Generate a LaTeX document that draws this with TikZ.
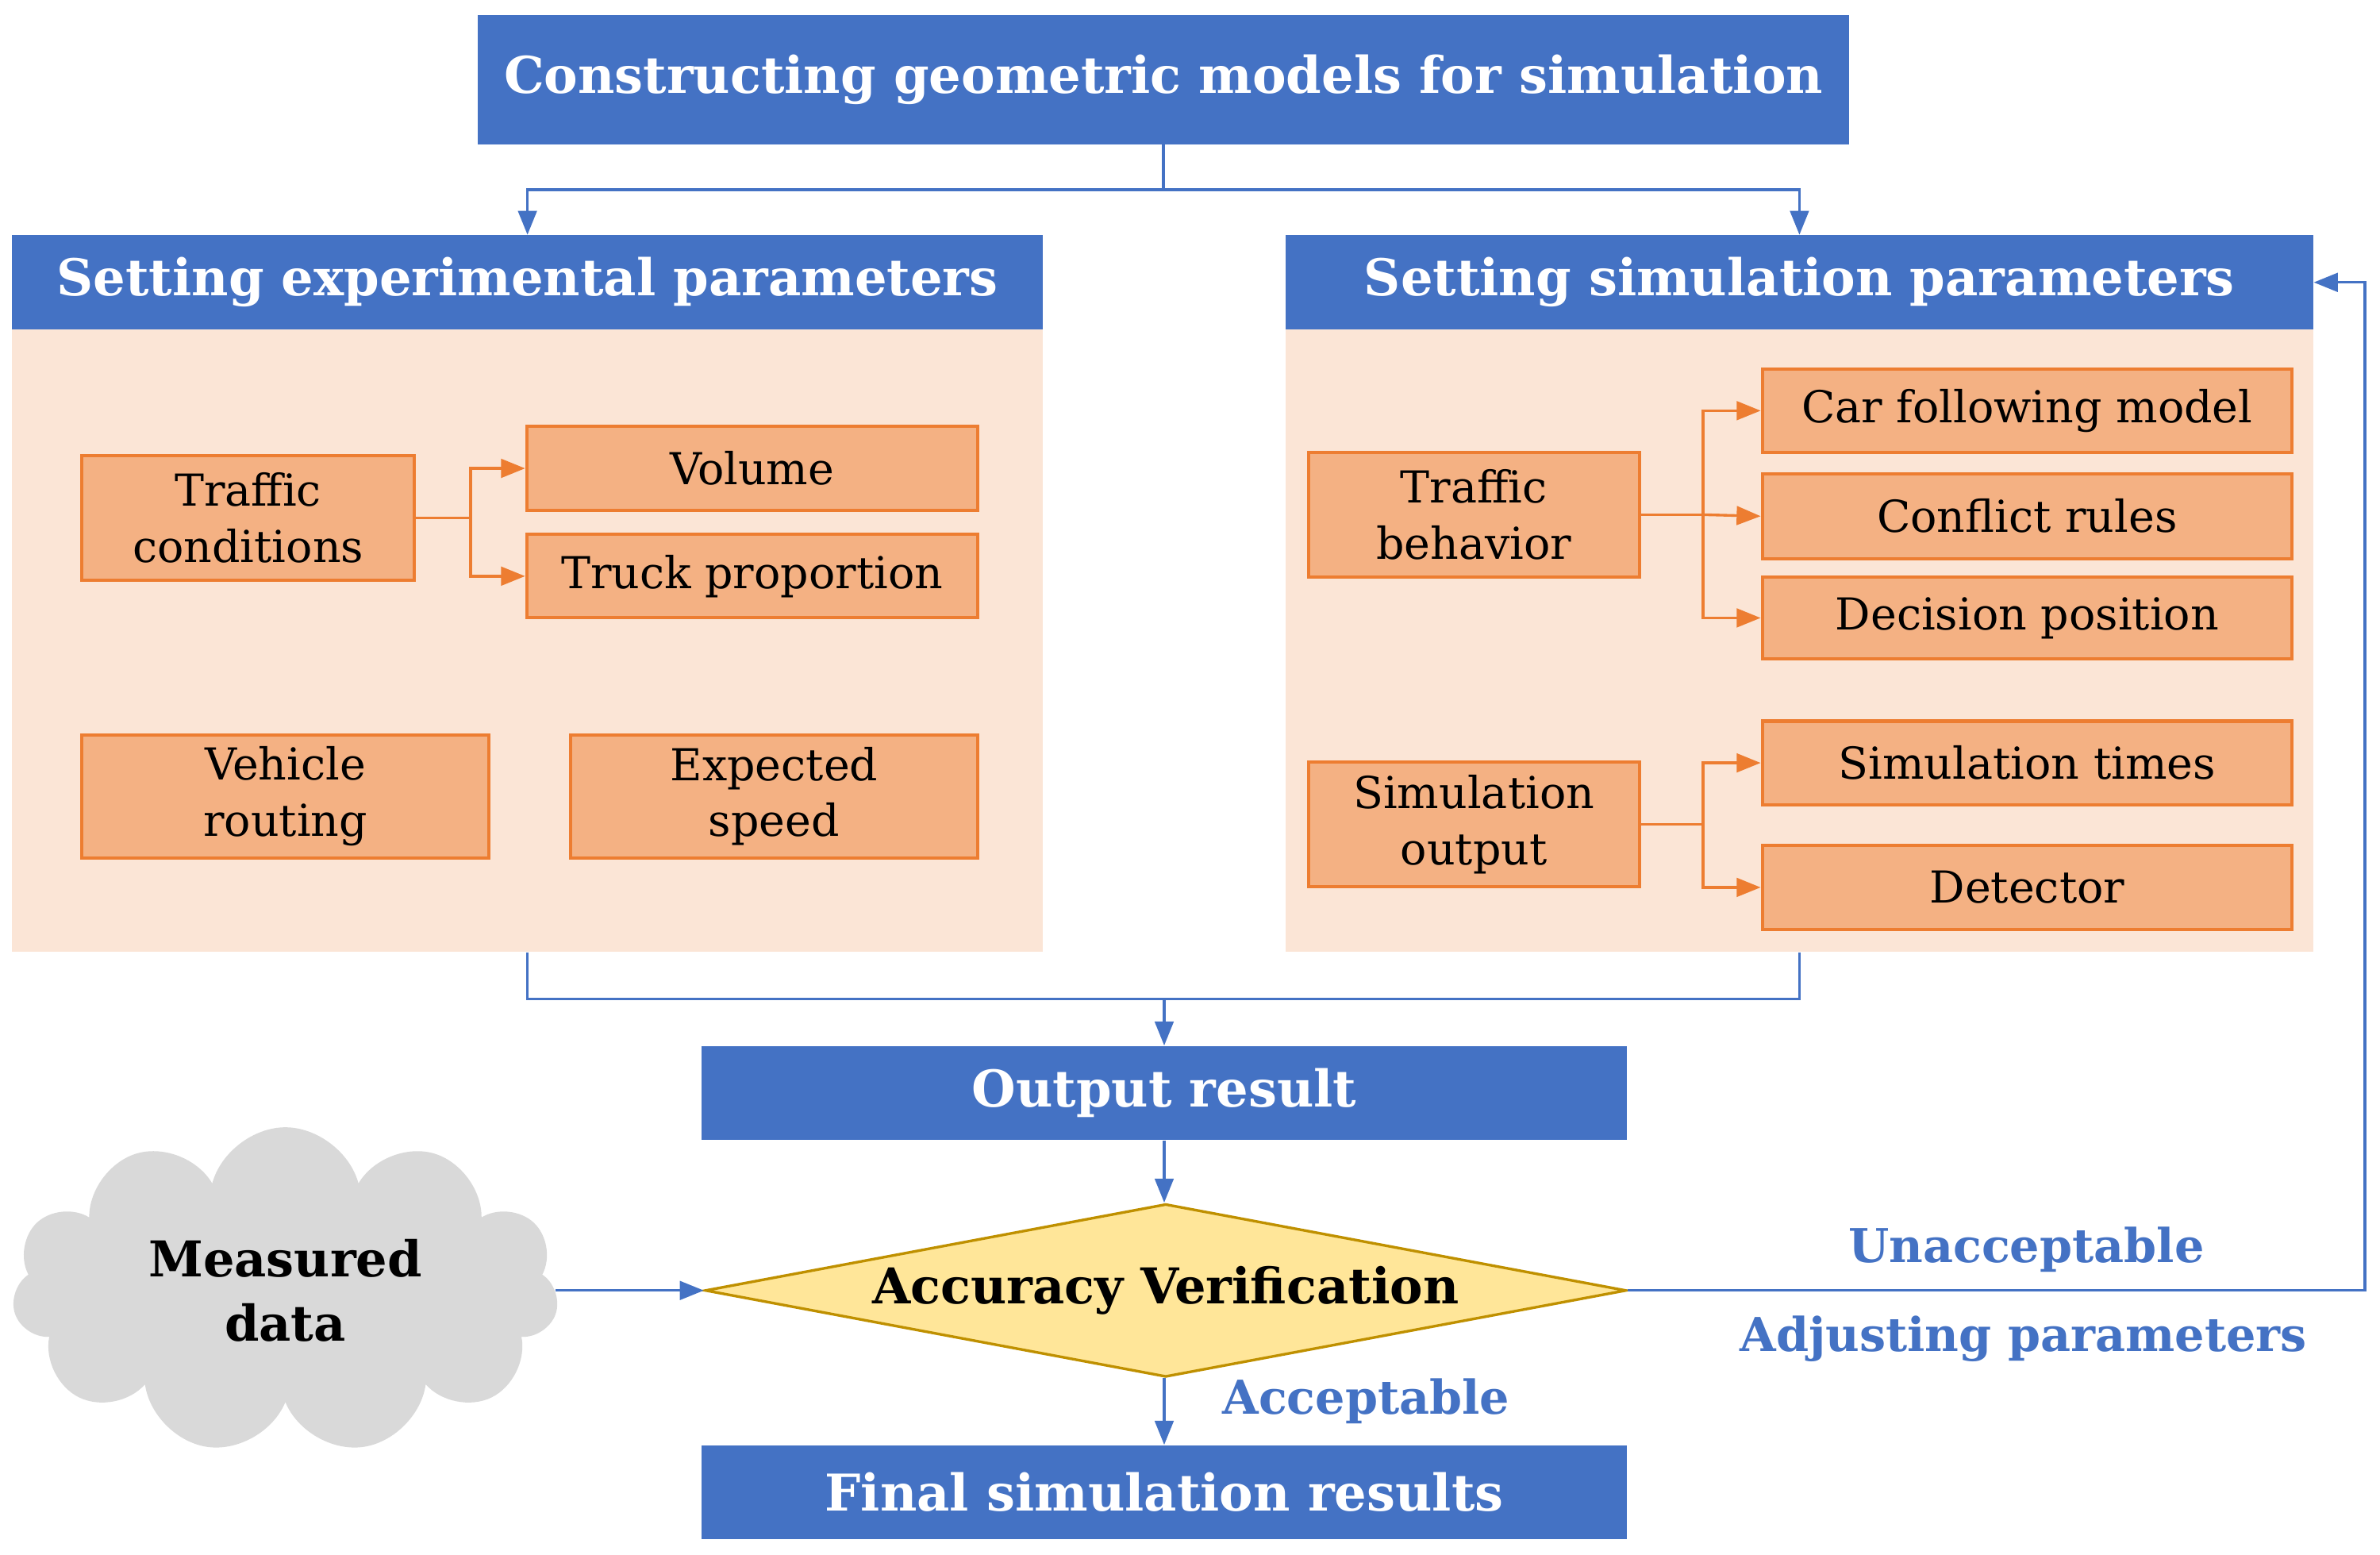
\documentclass[tikz,border=0pt]{standalone}
\usepackage{fontspec}
\setmainfont{DejaVu Serif}
\usetikzlibrary{shapes.geometric,shapes.symbols,arrows.meta,calc}
\definecolor{bl}{HTML}{4472C4}
\definecolor{pan}{HTML}{FBE5D6}
\definecolor{ofill}{HTML}{F4B183}
\definecolor{oline}{HTML}{ED7D31}
\definecolor{dfill}{HTML}{FFE699}
\definecolor{dline}{HTML}{BF9000}
\newcommand\mybox[7]{\node[#2,minimum width={(#5-#3)*0.02cm},minimum height={(#6-#4)*0.02cm}] (#1) at ({(#3+#5)/2},{(#4+#6)/2}) {#7};}
\begin{document}
\begin{tikzpicture}[x=0.02cm,y=-0.02cm,
  hdr/.style={fill=bl,draw=none,inner sep=0,text=white,font=\fontsize{19}{22}\selectfont\bfseries},
  panel/.style={fill=pan,draw=none,inner sep=0},
  ob/.style={fill=ofill,draw=oline,line width=1.2pt,inner sep=0,align=center,font=\fontsize{16.5}{21}\selectfont},
  bar/.style={draw=bl,line width=1pt},
  barr/.style={draw=bl,line width=1pt,-{Triangle[length=9pt,width=7pt]}},
  oar/.style={draw=oline,line width=1pt,-{Triangle[length=9pt,width=7pt]}},
  oln/.style={draw=oline,line width=1pt},
  lbl/.style={text=bl,font=\fontsize{17.5}{20}\selectfont\bfseries}]
\useasboundingbox (0,0) rectangle (1568,1024);
\mybox{title}{hdr,font=\fontsize{19}{22}\selectfont\bfseries}{315}{10}{1218}{95}{Constructing geometric models for simulation}
\mybox{lp}{panel}{8}{217}{687}{627}{}
\mybox{rp}{panel}{847}{217}{1524}{627}{}
\mybox{lh}{hdr}{8}{155}{687}{217}{Setting experimental parameters}
\mybox{rh}{hdr}{847}{155}{1524}{217}{Setting simulation parameters}
\mybox{tc}{ob}{54}{300}{273}{382}{Traffic\\conditions}
\mybox{vol}{ob}{347}{281}{644}{336}{Volume}
\mybox{tp}{ob}{347}{352}{644}{407}{Truck proportion}
\mybox{vr}{ob}{54}{484}{322}{565}{Vehicle\\routing}
\mybox{es}{ob}{376}{484}{644}{565}{Expected\\speed}
\mybox{tb}{ob}{862}{298}{1080}{380}{Traffic\\behavior}
\mybox{cf}{ob}{1161}{243}{1510}{298}{Car following model}
\mybox{cr}{ob}{1161}{312}{1510}{368}{Conflict rules}
\mybox{dp}{ob}{1161}{380}{1510}{434}{Decision position}
\mybox{so}{ob}{862}{502}{1080}{584}{Simulation\\output}
\mybox{st}{ob}{1161}{475}{1510}{530}{Simulation times}
\mybox{det}{ob}{1161}{557}{1510}{612}{Detector}
\mybox{out}{hdr}{462}{689}{1072}{751}{Output result}
\mybox{fin}{hdr}{462}{952}{1072}{1014}{Final simulation results}
\node[diamond,fill=dfill,draw=dline,line width=1pt,minimum width=12.14cm,minimum height=2.28cm,aspect=5.3,inner sep=0,font=\fontsize{18.5}{22}\selectfont\bfseries] (dia) at (768,850) {Accuracy Verification};
\node[cloud,cloud puffs=11,aspect=1.7,fill=black!15,draw=none,minimum width=7.2cm,minimum height=4.3cm,align=center,font=\fontsize{18.5}{24}\selectfont\bfseries] (cl) at (188,850) {Measured\\data};
% orange connectors
\coordinate (j1) at (310,341);
\draw[oln] (tc.east) -- (j1);
\draw[oar] (j1) |- (vol.west);
\draw[oar] (j1) |- (tp.west);
\coordinate (j2) at (1122,339);
\draw[oln] (tb.east) -- (j2);
\draw[oar] (j2) |- (cf.west);
\draw[oar] (j2) -- (cr.west);
\draw[oar] (j2) |- (dp.west);
\coordinate (j3) at (1122,543);
\draw[oln] (so.east) -- (j3);
\draw[oar] (j3) |- (st.west);
\draw[oar] (j3) |- (det.west);
% blue connectors
\coordinate (t1) at (766.5,125);
\draw[bar] (title.south) -- (t1);
\draw[barr] (t1) -| (lh.north);
\draw[barr] (t1) -| (rh.north);
\coordinate (b1) at (767,658);
\draw[bar] (lp.south) |- (b1);
\draw[bar] (rp.south) |- (b1);
\draw[barr] (b1) -- (out.north);
\draw[barr] (out.south) -- (out.south |- dia.north);
\draw[barr] (cl.east |- dia.west) -- (dia.west);
\draw[barr] (dia.south -| fin.north) -- (fin.north);
\coordinate (r1) at (1558,850);
\draw[barr] (dia.east) -- (r1) |- (rh.east);
\node[lbl] (un) at (1335,823) {Unacceptable};
\node[lbl] (adj) at (1333,882) {Adjusting parameters};
\node[lbl] (acc) at (900,923) {Acceptable};
\end{tikzpicture}
\end{document}
